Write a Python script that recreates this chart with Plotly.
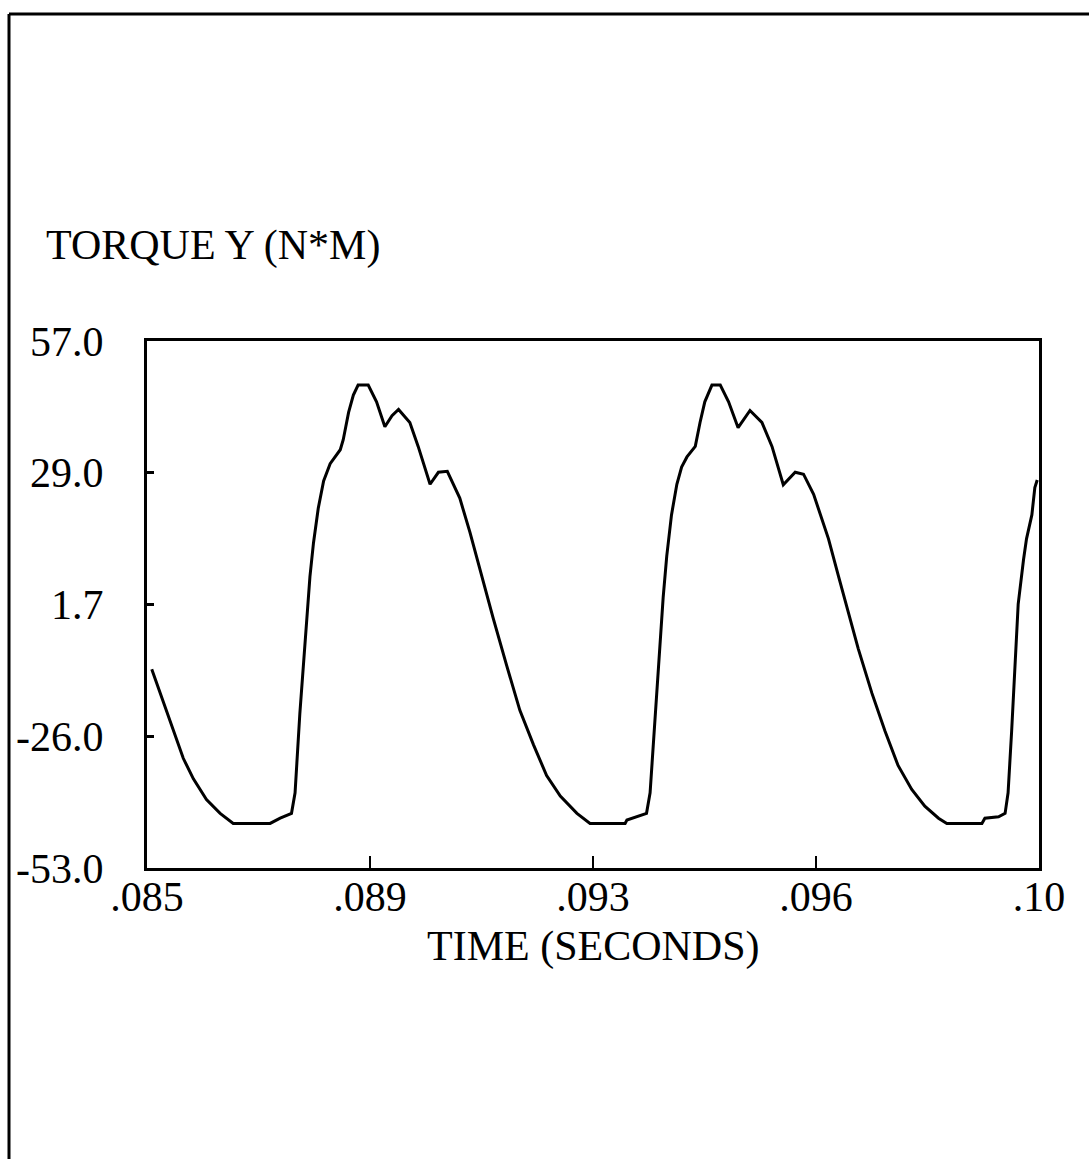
import plotly.graph_objects as go

# Data
time_s = [
    0.08508, 0.08522, 0.08544, 0.08561, 0.08578, 0.08600, 0.08623, 0.08645,
    0.08707, 0.08724, 0.08743, 0.08749, 0.08757, 0.08763, 0.08769, 0.08774,
    0.08780, 0.08788, 0.08797, 0.08808, 0.08825, 0.08830, 0.08839, 0.08847,
    0.08855, 0.08872, 0.08886, 0.08900, 0.08912, 0.08923, 0.08942, 0.08956,
    0.08976, 0.08990, 0.09005, 0.09026, 0.09043, 0.09060, 0.09082, 0.09105,
    0.09127, 0.09150, 0.09172, 0.09195, 0.09223, 0.09245, 0.09304, 0.09307,
    0.09324, 0.09340, 0.09346, 0.09351, 0.09357, 0.09363, 0.09368, 0.09374,
    0.09382, 0.09391, 0.09399, 0.09408, 0.09422, 0.09430, 0.09438, 0.09450,
    0.09464, 0.09478, 0.09494, 0.09514, 0.09534, 0.09551, 0.09570, 0.09590,
    0.09604, 0.09621, 0.09629, 0.09646, 0.09663, 0.09679, 0.09696, 0.09719,
    0.09741, 0.09763, 0.09786, 0.09808, 0.09831, 0.09845, 0.09904, 0.09909,
    0.09932, 0.09943, 0.09948, 0.09954, 0.09960, 0.09965, 0.09974, 0.09979,
    0.09988, 0.09993, 0.09997,
]
torque_y = [
    -11.5, -16.5, -24.4, -30.1, -34.4, -38.7, -41.6, -43.7,
    -43.7, -42.6, -41.6, -37.3, -20.8, -10.8, -0.8, 7.8,
    14.9, 22.1, 27.8, 31.4, 34.3, 36.4, 42.1, 45.7,
    47.8, 47.8, 44.3, 39.1, 41.4, 42.7, 40.0, 35.0,
    27.1, 29.6, 29.8, 24.2, 17.1, 9.2, -0.8, -10.8,
    -20.1, -27.3, -33.7, -38.0, -41.6, -43.7, -43.7, -43.0,
    -42.3, -41.6, -37.3, -28.0, -15.1, -5.1, 3.5, 12.1,
    20.7, 27.1, 30.7, 32.8, 35.0, 40.0, 44.3, 47.8,
    47.8, 44.3, 38.9, 42.5, 40.0, 35.0, 27.0, 29.6,
    29.2, 25.0, 22.1, 15.7, 7.8, 0.6, -7.2, -16.5,
    -24.4, -31.6, -36.6, -40.1, -42.6, -43.7, -43.7, -42.6,
    -42.3, -41.6, -37.3, -24.4, -10.1, 2.1, 11.4, 15.7,
    20.7, 26.4, 28.0,
]

x_tickvals = [0.085, 0.08875, 0.0925, 0.09625, 0.1]
x_ticktext = [".085", ".089", ".093", ".096", ".10"]
y_tickvals = [-53, -25.5, 2, 29.5, 57]
y_ticktext = ["-53.0", "-26.0", "1.7", "29.0", "57.0"]

FONT = "Liberation Serif, Times New Roman, serif"
FS = 42
W, H = 1089, 1159
L, R, T, B = 147, 50, 341, 291

def px_x(px):
    return (px - L) / (W - L - R)

def px_y(py):
    return (H - B - py) / (H - T - B)

fig = go.Figure()
fig.add_trace(go.Scatter(
    x=time_s, y=torque_y, mode="lines",
    line=dict(color="black", width=3),
    showlegend=False, hoverinfo="skip",
))

fig.update_layout(
    width=W, height=H,
    margin=dict(l=L, r=R, t=T, b=B, pad=0),
    paper_bgcolor="white", plot_bgcolor="white",
    font=dict(family=FONT, size=FS, color="black"),
    xaxis=dict(
        range=[0.085, 0.1], tickvals=x_tickvals, ticktext=x_ticktext,
        showgrid=False, zeroline=False, showline=True, mirror=True,
        linecolor="black", linewidth=3,
        ticks="inside", ticklen=12, tickwidth=2, tickcolor="black",
        ticklabelstandoff=-10,
        tickfont=dict(family=FONT, size=FS, color="black"),
    ),
    yaxis=dict(
        range=[-53, 57], tickvals=y_tickvals, ticktext=y_ticktext,
        showgrid=False, zeroline=False, showline=True, mirror=True,
        linecolor="black", linewidth=3,
        ticks="inside", ticklen=7, tickwidth=3, tickcolor="black",
        ticklabelstandoff=32,
        tickfont=dict(family=FONT, size=FS, color="black"),
    ),
    annotations=[
        dict(text="TORQUE Y (N*M)", xref="paper", yref="paper",
             x=px_x(44), y=px_y(245), xanchor="left", yanchor="middle",
             showarrow=False, font=dict(family=FONT, size=FS, color="black")),
        dict(text="TIME (SECONDS)", xref="paper", yref="paper",
             x=0.5, y=px_y(946), xanchor="center", yanchor="middle",
             showarrow=False, font=dict(family=FONT, size=FS, color="black")),
    ],
    shapes=[
        dict(type="line", xref="paper", yref="paper",
             x0=px_x(9), y0=px_y(14), x1=px_x(1089), y1=px_y(14),
             line=dict(color="black", width=3)),
        dict(type="line", xref="paper", yref="paper",
             x0=px_x(9), y0=px_y(14), x1=px_x(9), y1=px_y(1159),
             line=dict(color="black", width=3)),
    ],
)

fig.write_html("out.html")
